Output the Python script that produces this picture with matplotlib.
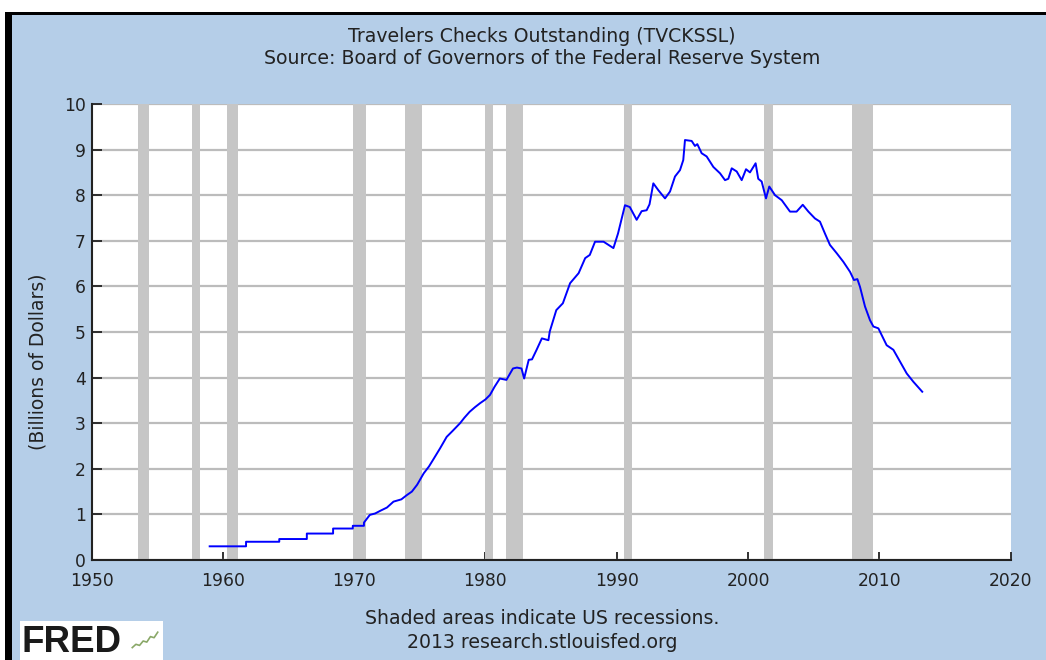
import numpy as np
import matplotlib
matplotlib.use("Agg")
import matplotlib.pyplot as plt
from matplotlib.patches import Rectangle

# recession periods (start, end) in decimal years
recessions = [(1953.55, 1954.4), (1957.65, 1958.3), (1960.3, 1961.15),
              (1969.95, 1970.9), (1973.9, 1975.2), (1980.0, 1980.55),
              (1981.55, 1982.9), (1990.55, 1991.2), (2001.2, 2001.9),
              (2007.95, 2009.5)]

# travelers checks outstanding, billions of dollars
years = [1959.0, 1961.77, 1961.77, 1964.3, 1964.3, 1966.4, 1966.4, 1968.4, 1968.4,
         1969.9, 1969.9, 1970.75, 1970.75, 1971.2, 1971.6, 1972.0, 1972.5, 1973.0,
         1973.6, 1974.0, 1974.4, 1974.8, 1975.3, 1975.7, 1976.0, 1976.55, 1977.05,
         1977.5, 1978.07, 1978.4, 1978.8, 1979.2, 1979.6, 1980.0, 1980.35, 1980.7,
         1981.1, 1981.6, 1982.1, 1982.4, 1982.75, 1982.95, 1983.3, 1983.55, 1983.9,
         1984.3, 1984.8, 1984.9, 1985.4, 1985.9, 1986.45, 1987.1, 1987.6, 1987.95,
         1988.35, 1989.0, 1989.75, 1990.1, 1990.63, 1991.0, 1991.52, 1991.9, 1992.28,
         1992.5, 1992.79, 1993.17, 1993.68, 1994.06, 1994.44, 1994.82, 1995.07,
         1995.2, 1995.71, 1995.96, 1996.14, 1996.47, 1996.85, 1997.36, 1997.87,
         1998.25, 1998.5, 1998.76, 1999.14, 1999.52, 1999.85, 2000.15, 2000.58,
         2000.78, 2001.04, 2001.37, 2001.62, 2002.06, 2002.57, 2003.2, 2003.7,
         2004.17, 2004.6, 2005.1, 2005.48, 2005.86, 2006.24, 2006.75, 2007.26,
         2007.77, 2008.07, 2008.33, 2008.53, 2008.91, 2009.29, 2009.55, 2009.93,
         2010.56, 2011.07, 2011.58, 2012.09, 2012.59, 2013.27]
values = [0.30, 0.30, 0.40, 0.40, 0.46, 0.46, 0.58, 0.58, 0.69,
          0.69, 0.75, 0.75, 0.82, 0.99, 1.02, 1.08, 1.15, 1.28,
          1.33, 1.42, 1.50, 1.65, 1.90, 2.05, 2.19, 2.45, 2.70,
          2.83, 3.00, 3.12, 3.25, 3.35, 3.44, 3.52, 3.62, 3.80,
          3.98, 3.95, 4.20, 4.22, 4.20, 3.98, 4.39, 4.40, 4.61,
          4.86, 4.82, 5.01, 5.48, 5.63, 6.07, 6.29, 6.62, 6.69,
          6.98, 6.98, 6.84, 7.16, 7.78, 7.74, 7.46, 7.65, 7.67,
          7.80, 8.26, 8.11, 7.93, 8.08, 8.41, 8.55, 8.77,
          9.21, 9.19, 9.08, 9.12, 8.92, 8.85, 8.62, 8.48,
          8.33, 8.36, 8.59, 8.52, 8.33, 8.57, 8.50, 8.70,
          8.36, 8.30, 7.93, 8.19, 8.00, 7.89, 7.64, 7.64,
          7.79, 7.64, 7.49, 7.42, 7.16, 6.91, 6.73, 6.54,
          6.32, 6.14, 6.16, 5.99, 5.56, 5.26, 5.12, 5.08,
          4.71, 4.61, 4.35, 4.09, 3.91, 3.69]

xticks = [1950, 1960, 1970, 1980, 1990, 2000, 2010, 2020]
yticks = list(range(0, 11))

# little squiggle for the logo
icon_vals = [0.2, 0.35, 0.3, 0.5, 0.45, 0.7, 0.65, 0.9]

bg = '#b5cee8'
txt = '#222222'

fig = plt.figure(figsize=(10.46, 6.6), dpi=100)
fig.patch.set_facecolor('white')
fig.patches.append(Rectangle((12/1046, 0), 1 - 12/1046, 1 - 15/660,
                             transform=fig.transFigure, facecolor=bg,
                             edgecolor='none', zorder=-5))
# black frame on top and left
fig.patches.append(Rectangle((5/1046, 1 - 15/660), 1 - 5/1046, 3/660,
                             transform=fig.transFigure, facecolor='black',
                             edgecolor='none'))
fig.patches.append(Rectangle((5/1046, 0), 7/1046, 1 - 12/660,
                             transform=fig.transFigure, facecolor='black',
                             edgecolor='none'))

ax = fig.add_axes([91.5/1046, 100/660, (1010.6 - 91.5)/1046, 456/660])
ax.set_facecolor('white')

for s, e in recessions:
    ax.axvspan(s, e, color='#c6c6c6', lw=0, zorder=2)

ax.plot(years, values, color='#0000ff', lw=1.4, zorder=4)

ax.set_xlim(1950, 2020)
ax.set_ylim(0, 10)
ax.set_xticks(xticks)
ax.set_yticks(yticks)
ax.yaxis.grid(True, color='#bcbcbc', lw=1.6, zorder=1)
ax.set_axisbelow(True)
for sp in ['top', 'right']:
    ax.spines[sp].set_visible(False)
for sp in ['left', 'bottom']:
    ax.spines[sp].set_color(txt)
    ax.spines[sp].set_linewidth(1.5)
    ax.spines[sp].set_zorder(5)
ax.tick_params(axis='x', direction='in', length=6, width=1.3, pad=9,
               labelsize=12.3, colors=txt)
ax.tick_params(axis='y', direction='in', length=7, width=1.3, pad=4,
               labelsize=12.3, colors=txt)

fs = 13.6
fig.text(0.518, 1 - 37/660, 'Travelers Checks Outstanding (TVCKSSL)',
         ha='center', va='center', fontsize=fs, color=txt)
fig.text(0.518, 1 - 59/660, 'Source: Board of Governors of the Federal Reserve System',
         ha='center', va='center', fontsize=fs, color=txt)
fig.text(38/1046, 1 - 362/660, '(Billions of Dollars)', rotation=90,
         ha='center', va='center', fontsize=13.5, color=txt)
fig.text(0.518, 1 - 619/660, 'Shaded areas indicate US recessions.',
         ha='center', va='center', fontsize=fs, color=txt)
fig.text(0.518, 1 - 643/660, '2013 research.stlouisfed.org',
         ha='center', va='center', fontsize=fs, color=txt)

# FRED logo
fig.patches.append(Rectangle((20/1046, 0), 143/1046, 39/660,
                             transform=fig.transFigure, facecolor='white',
                             edgecolor='none'))
fig.text(21/1046, 1 - 642/660, 'FRED', ha='left', va='center',
         fontsize=26.5, fontweight='bold', color='#1a1a1a',
         family='Liberation Sans')
iax = fig.add_axes([131/1046, 8/660, 28/1046, 22/660])
iax.set_zorder(3)
iax.plot(range(len(icon_vals)), icon_vals, color='#8aa868', lw=1.2)
iax.set_ylim(0, 1)
iax.axis('off')

fig.savefig('out.png', dpi=100, facecolor=fig.get_facecolor())
